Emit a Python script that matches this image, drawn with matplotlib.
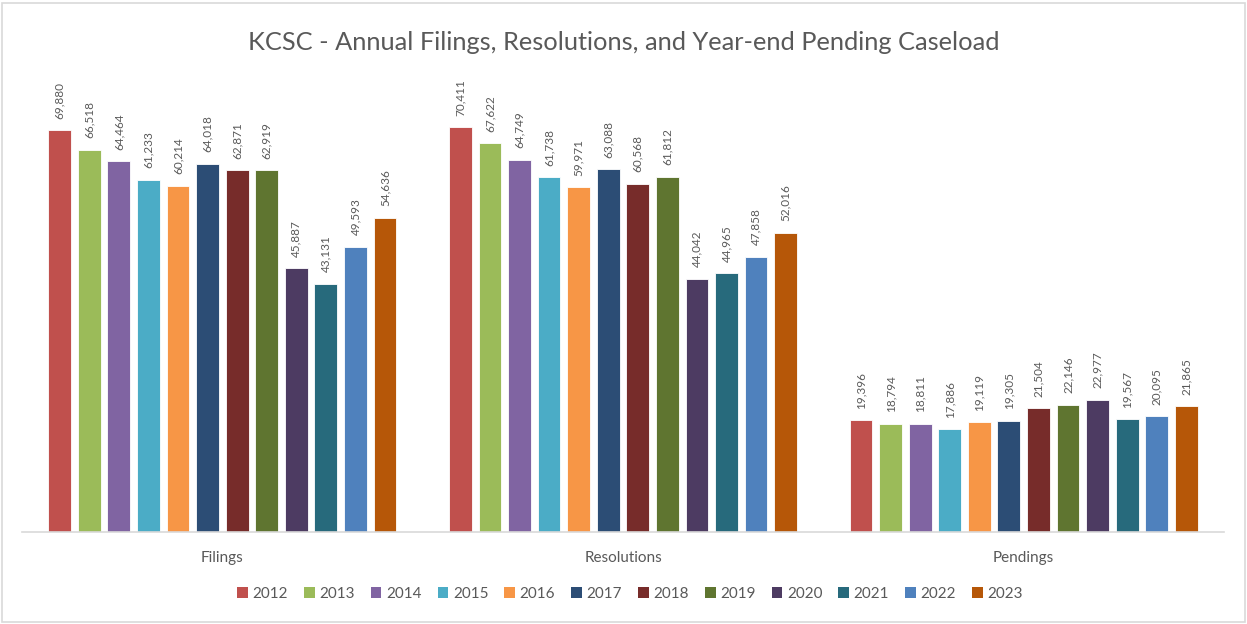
import numpy as np
import matplotlib.pyplot as plt
from matplotlib.patches import Rectangle, Patch

plt.rcParams['font.family'] = ['Lato', 'DejaVu Sans']

categories = ['Filings', 'Resolutions', 'Pendings']
years = ['2012', '2013', '2014', '2015', '2016', '2017',
         '2018', '2019', '2020', '2021', '2022', '2023']
filings = [69880, 66518, 64464, 61233, 60214, 64018, 62871, 62919, 45887, 43131, 49593, 54636]
resolutions = [70411, 67622, 64749, 61738, 59971, 63088, 60568, 61812, 44042, 44965, 47858, 52016]
pendings = [19396, 18794, 18811, 17886, 19119, 19305, 21504, 22146, 22977, 19567, 20095, 21865]
colors = ['#C0504D', '#9BBB59', '#8064A2', '#4BACC6', '#F79646', '#2C4D75',
          '#772C2A', '#5F7530', '#4D3B62', '#276A7C', '#4F81BD', '#B65708']

data = np.array([filings, resolutions, pendings])
txt = '#595959'

fig = plt.figure(figsize=(12.47, 6.24), dpi=100)
ax = fig.add_axes([22/1247, 1-532/624, 1202/1247, 460/624])

step = 0.0738
width = 0.057
x = np.arange(len(categories))
for i, yr in enumerate(years):
    pos = x + (i - 5.5) * step
    bars = ax.bar(pos, data[:, i], width, color=colors[i], edgecolor='white', linewidth=0.6, label=yr)
    for b, v in zip(bars, data[:, i]):
        ax.text(b.get_x() + b.get_width()/2, v + 2000, f'{v:,}', rotation=90,
                ha='center', va='bottom', fontsize=8.5, color=txt)

ax.set_xlim(-0.5, 2.5)
ax.set_ylim(0, 80000)
ax.set_yticks([])
ax.set_xticks(x)
ax.set_xticklabels(categories, fontsize=11, color=txt)
ax.tick_params(axis='x', length=0, pad=14)
for s in ['top', 'right', 'left']:
    ax.spines[s].set_visible(False)
ax.spines['bottom'].set_color('#D9D9D9')
ax.spines['bottom'].set_linewidth(1.2)

fig.suptitle('KCSC - Annual Filings, Resolutions, and Year-end Pending Caseload',
             y=1-42/624, va='center', fontsize=18.3, color=txt)

handles = [Patch(facecolor=c, label=y) for c, y in zip(colors, years)]
fig.legend(handles=handles, loc='center', bbox_to_anchor=(630/1247, 1-594/624), ncol=12,
           frameon=False, fontsize=11, labelcolor=txt, handlelength=0.7, handleheight=0.7,
           handletextpad=0.3, columnspacing=1.05)

fig.patches.append(Rectangle((2/1247, 2/624), 1243/1247, 619/624, transform=fig.transFigure,
                             fill=False, edgecolor='#D9D9D9', linewidth=1.2))

fig.savefig('out.png', dpi=100)
